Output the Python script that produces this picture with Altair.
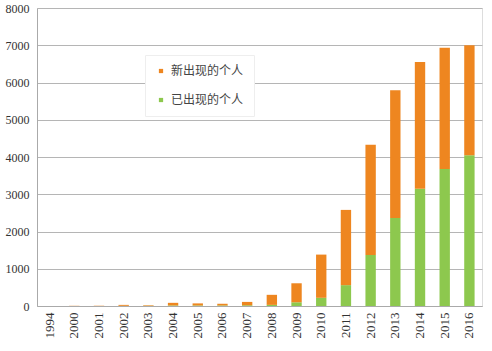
import altair as alt
import pandas as pd

years = ["1994", "2000", "2001", "2002", "2003", "2004", "2005", "2006", "2007",
         "2008", "2009", "2010", "2011", "2012", "2013", "2014", "2015", "2016"]
existing = [0, 0, 0, 5, 5, 15, 15, 15, 20, 30, 100, 220, 560, 1370, 2360, 3150, 3680, 4050]
new = [3, 5, 5, 25, 15, 70, 55, 45, 90, 270, 510, 1160, 2020, 2960, 3430, 3400, 3250, 2950]
series = ["新出现的个人", "已出现的个人"]
colors = ["#EE8620", "#8DC84E"]

rows = []
for y, e, n in zip(years, existing, new):
    rows.append({"year": y, "series": series[1], "value": e, "ord": 0})
    rows.append({"year": y, "series": series[0], "value": n, "ord": 1})
df = pd.DataFrame(rows)

serif = "'Liberation Serif', 'DejaVu Serif', serif"

chart = alt.Chart(df).mark_bar().encode(
    x=alt.X("year:N", sort=years,
            scale=alt.Scale(paddingInner=0.58, paddingOuter=0.3),
            axis=alt.Axis(title=None, labelAngle=270, labelFont=serif,
                          labelFontSize=13, labelColor="#333", labelPadding=6,
                          ticks=False, domainColor="#aaa", grid=False,
                          labelAlign="right", labelBaseline="middle")),
    y=alt.Y("value:Q", stack="zero",
            scale=alt.Scale(domain=[0, 8000]),
            axis=alt.Axis(title=None, values=list(range(0, 8001, 1000)), format="d",
                          labelFont=serif, labelFontSize=12,
                          labelColor="#333", ticks=False, domainColor="#aaa",
                          gridColor="#b5b5b5", labelPadding=8)),
    color=alt.Color("series:N", sort=series,
                    scale=alt.Scale(domain=series, range=colors),
                    legend=alt.Legend(title=None, orient="none", legendX=108, legendY=47,
                                      symbolType="square", symbolSize=18,
                                      labelFont="Noto Sans CJK SC", labelFontSize=12,
                                      labelColor="#444", rowPadding=17,
                                      padding=10, fillColor="white",
                                      strokeColor="#eeeeee")),
    order=alt.Order("ord:Q", sort="ascending"),
).properties(
    width=445, height=298,
    autosize=alt.AutoSizeParams(type="none"),
    padding={"left": 37, "top": 8, "right": 10, "bottom": 45},
).configure_view(stroke=None).configure(background="white")

chart.save("out.html", embed_options={"renderer": "svg", "actions": False})
